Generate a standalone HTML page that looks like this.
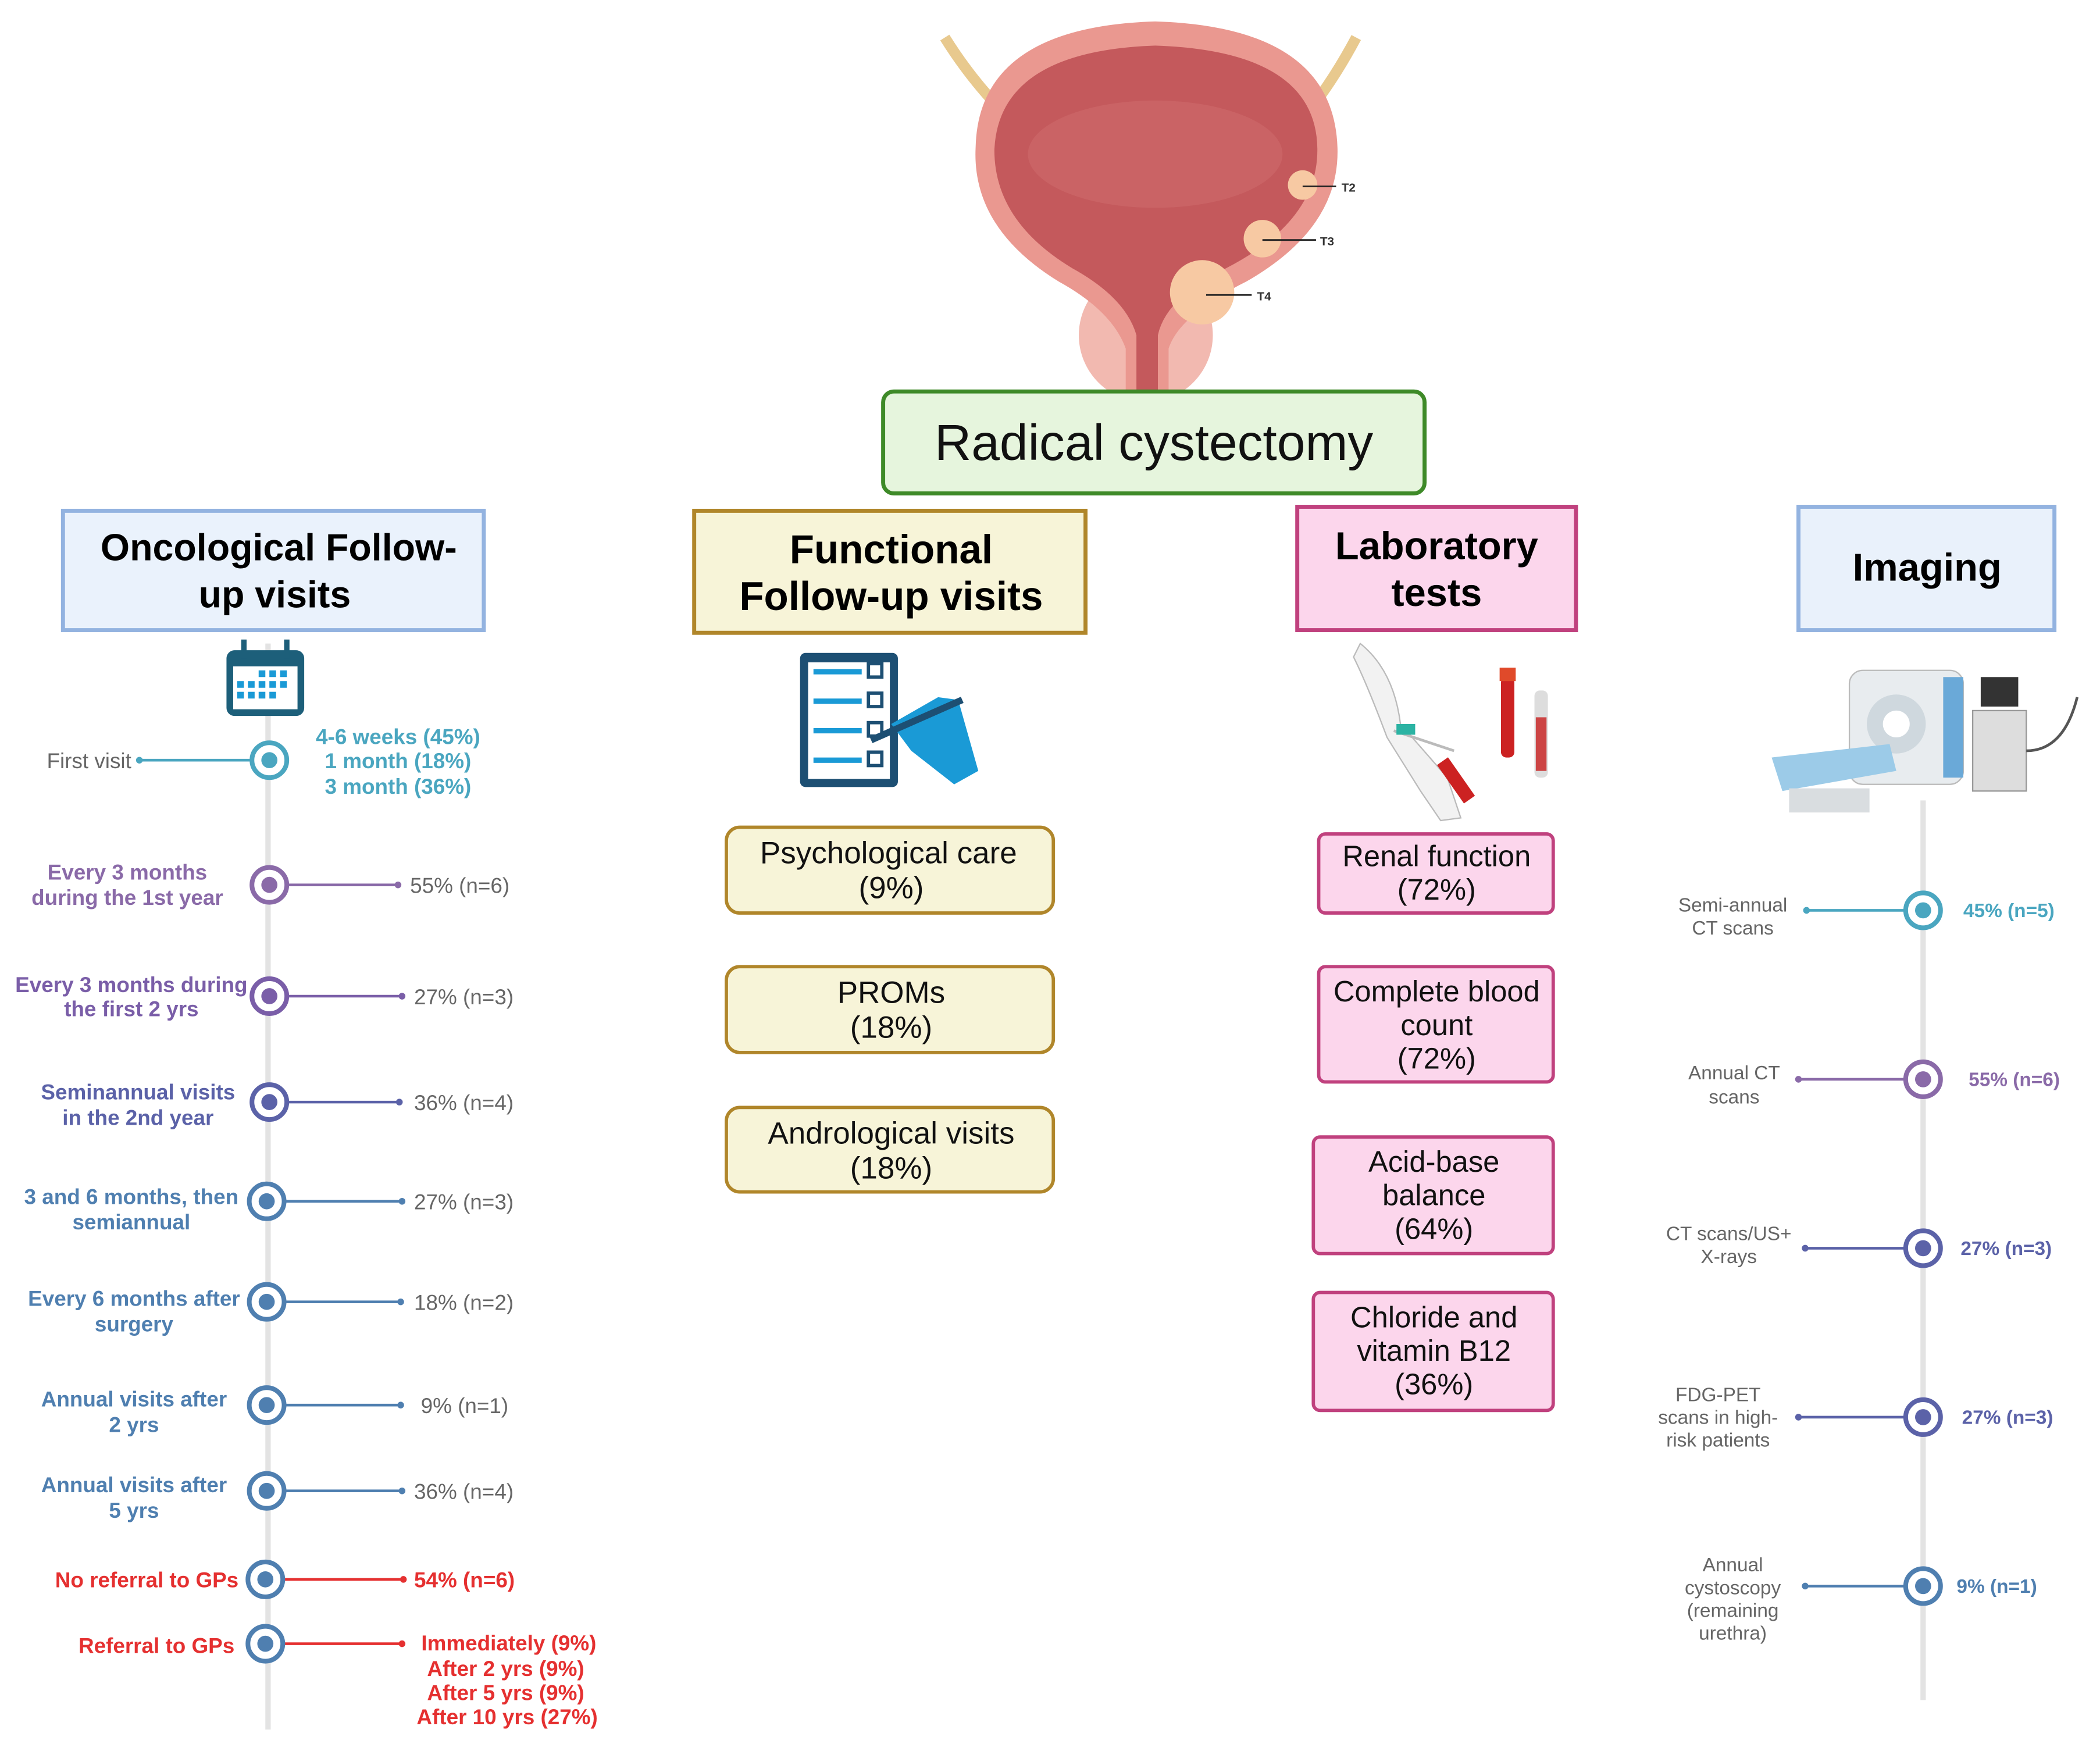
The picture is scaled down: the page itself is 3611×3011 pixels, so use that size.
<!DOCTYPE html>
<html><head><meta charset="utf-8"><style>
html,body{margin:0;padding:0;background:#fff}
svg{display:block}
text{font-family:"Liberation Sans",sans-serif}
</style></head><body>
<svg width="3611" height="3011" viewBox="0 0 1567 1306" preserveAspectRatio="none" xmlns="http://www.w3.org/2000/svg">
<rect width="1567" height="1306" fill="#fff"/>
<!-- bladder -->
<path d="M705 28 Q725 60 750 85" stroke="#e8c98e" stroke-width="8" fill="none"/>
<path d="M1012 28 Q995 60 975 85" stroke="#e8c98e" stroke-width="8" fill="none"/>
<ellipse cx="855" cy="250" rx="50" ry="50" fill="#f2b9b0"/>
<path d="M728 110 Q730 20 862 16 Q995 20 998 110 Q1000 170 930 210 Q880 235 872 260 L872 292 L840 292 L840 260 Q830 232 790 210 Q725 170 728 110Z" fill="#ea9890"/>
<path d="M742 112 Q745 38 862 34 Q983 38 983 112 Q983 165 915 200 Q870 222 864 250 L864 292 L848 292 L848 250 Q840 222 800 200 Q742 165 742 112Z" fill="#c4595c"/>
<ellipse cx="862" cy="115" rx="95" ry="40" fill="#cf6a6a" opacity="0.6"/>
<circle cx="972" cy="138" r="11" fill="#f7c9a3"/>
<circle cx="942" cy="178" r="14" fill="#f7c9a3"/>
<circle cx="897" cy="218" r="24" fill="#f7c9a3"/>
<g stroke="#222" stroke-width="1.2"><line x1="972" y1="139" x2="997" y2="139"/><line x1="942" y1="179" x2="982" y2="179"/><line x1="900" y1="220" x2="934" y2="220"/></g>
<g font-size="9" font-weight="bold" fill="#333"><text x="1001" y="143">T2</text><text x="985" y="183">T3</text><text x="938" y="224">T4</text></g>
<!-- main box -->
<rect x="659" y="292" width="404" height="76" rx="8" fill="#e6f5dd" stroke="#3e8a28" stroke-width="3"/>
<text x="861" y="343" font-size="38" text-anchor="middle" fill="#111">Radical cystectomy</text>
<!-- category boxes -->
<rect x="47" y="381" width="314" height="89" fill="#eaf2fc" stroke="#93b3e0" stroke-width="3"/>
<text x="208" y="418" font-size="28" font-weight="bold" text-anchor="middle">Oncological Follow-</text>
<text x="205" y="453" font-size="28" font-weight="bold" text-anchor="middle">up visits</text>
<rect x="518" y="381" width="292" height="91" fill="#f7f4d8" stroke="#b0862a" stroke-width="3"/>
<text x="665" y="420" font-size="30" font-weight="bold" text-anchor="middle">Functional</text>
<text x="665" y="455" font-size="30" font-weight="bold" text-anchor="middle">Follow-up visits</text>
<rect x="968" y="378" width="208" height="92" fill="#fcd6ec" stroke="#c0417e" stroke-width="3"/>
<text x="1072" y="417" font-size="29" font-weight="bold" text-anchor="middle">Laboratory</text>
<text x="1072" y="452" font-size="29" font-weight="bold" text-anchor="middle">tests</text>
<rect x="1342" y="378" width="191" height="92" fill="#e9f1fb" stroke="#93b3e0" stroke-width="3"/>
<text x="1438" y="433" font-size="29" font-weight="bold" text-anchor="middle">Imaging</text>
<!-- oncology timeline -->
<line x1="200" y1="480" x2="200" y2="1290" stroke="#e3e3e3" stroke-width="4"/>
<rect x="169" y="485" width="58" height="49" rx="6" fill="#1d5f7a"/>
<rect x="174" y="497" width="48" height="32" fill="#fff"/>
<rect x="180" y="477" width="4" height="14" fill="#1d5f7a"/><rect x="212" y="477" width="4" height="14" fill="#1d5f7a"/>
<g fill="#1a9ad6"><rect x="193" y="500" width="5" height="5"/><rect x="201" y="500" width="5" height="5"/><rect x="209" y="500" width="5" height="5"/>
<rect x="177" y="508" width="5" height="5"/><rect x="185" y="508" width="5" height="5"/><rect x="193" y="508" width="5" height="5"/><rect x="201" y="508" width="5" height="5"/><rect x="209" y="508" width="5" height="5"/>
<rect x="177" y="516" width="5" height="5"/><rect x="185" y="516" width="5" height="5"/><rect x="193" y="516" width="5" height="5"/><rect x="201" y="516" width="5" height="5"/></g>
<g font-size="16">
<line x1="104" y1="567" x2="188" y2="567" stroke="#4aa6c0" stroke-width="2"/><circle cx="104" cy="567" r="2.5" fill="#4aa6c0"/>
<circle cx="201" cy="567" r="13" fill="#fff" stroke="#4aa6c0" stroke-width="3.5"/><circle cx="201" cy="567" r="6" fill="#4aa6c0"/>
<text x="98" y="573" text-anchor="end" fill="#666">First visit</text>
<g fill="#4aa6c0" font-weight="bold" text-anchor="middle"><text x="297" y="555">4-6 weeks (45%)</text><text x="297" y="573">1 month (18%)</text><text x="297" y="592">3 month (36%)</text></g>
<g font-weight="bold" text-anchor="middle">
<text x="95" y="656" fill="#8a6aa8">Every 3 months</text><text x="95" y="675" fill="#8a6aa8">during the 1st year</text>
<text x="98" y="740" fill="#7a5ea8">Every 3 months during</text><text x="98" y="758" fill="#7a5ea8">the first 2 yrs</text>
<text x="103" y="820" fill="#5b62a8">Seminannual visits</text><text x="103" y="839" fill="#5b62a8">in the 2nd year</text>
<text x="98" y="898" fill="#4f7fb0">3 and 6 months, then</text><text x="98" y="917" fill="#4f7fb0">semiannual</text>
<text x="100" y="974" fill="#4f7fb0">Every 6 months after</text><text x="100" y="993" fill="#4f7fb0">surgery</text>
<text x="100" y="1049" fill="#4f7fb0">Annual visits after</text><text x="100" y="1068" fill="#4f7fb0">2 yrs</text>
<text x="100" y="1113" fill="#4f7fb0">Annual visits after</text><text x="100" y="1132" fill="#4f7fb0">5 yrs</text>
</g>
<text x="178" y="1184" text-anchor="end" font-weight="bold" fill="#e53030">No referral to GPs</text>
<text x="175" y="1233" text-anchor="end" font-weight="bold" fill="#e53030">Referral to GPs</text>
<g stroke-width="2">
<line x1="214" y1="660" x2="297" y2="660" stroke="#8a6aa8"/><line x1="214" y1="743" x2="300" y2="743" stroke="#7a5ea8"/>
<line x1="214" y1="822" x2="298" y2="822" stroke="#5b62a8"/><line x1="212" y1="896" x2="300" y2="896" stroke="#4f7fb0"/>
<line x1="212" y1="971" x2="299" y2="971" stroke="#4f7fb0"/><line x1="212" y1="1048" x2="299" y2="1048" stroke="#4f7fb0"/>
<line x1="212" y1="1112" x2="300" y2="1112" stroke="#4f7fb0"/><line x1="211" y1="1178" x2="301" y2="1178" stroke="#e53030"/>
<line x1="211" y1="1226" x2="300" y2="1226" stroke="#e53030"/>
</g>
<g>
<circle cx="297" cy="660" r="2.5" fill="#8a6aa8"/><circle cx="300" cy="743" r="2.5" fill="#7a5ea8"/><circle cx="298" cy="822" r="2.5" fill="#5b62a8"/>
<circle cx="300" cy="896" r="2.5" fill="#4f7fb0"/><circle cx="299" cy="971" r="2.5" fill="#4f7fb0"/><circle cx="299" cy="1048" r="2.5" fill="#4f7fb0"/>
<circle cx="300" cy="1112" r="2.5" fill="#4f7fb0"/><circle cx="301" cy="1178" r="2.5" fill="#e53030"/><circle cx="300" cy="1226" r="2.5" fill="#e53030"/>
</g>
<g fill="#fff" stroke-width="3.5">
<circle cx="201" cy="660" r="13" stroke="#8a6aa8"/><circle cx="201" cy="743" r="13" stroke="#7a5ea8"/><circle cx="201" cy="822" r="13" stroke="#5b62a8"/>
<circle cx="199" cy="896" r="13" stroke="#4f7fb0"/><circle cx="199" cy="971" r="13" stroke="#4f7fb0"/><circle cx="199" cy="1048" r="13" stroke="#4f7fb0"/>
<circle cx="199" cy="1112" r="13" stroke="#4f7fb0"/><circle cx="198" cy="1178" r="13" stroke="#4f7fb0"/><circle cx="198" cy="1226" r="13" stroke="#4f7fb0"/>
</g>
<g>
<circle cx="201" cy="660" r="6" fill="#8a6aa8"/><circle cx="201" cy="743" r="6" fill="#7a5ea8"/><circle cx="201" cy="822" r="6" fill="#5b62a8"/>
<circle cx="199" cy="896" r="6" fill="#4f7fb0"/><circle cx="199" cy="971" r="6" fill="#4f7fb0"/><circle cx="199" cy="1048" r="6" fill="#4f7fb0"/>
<circle cx="199" cy="1112" r="6" fill="#4f7fb0"/><circle cx="198" cy="1178" r="6" fill="#4f7fb0"/><circle cx="198" cy="1226" r="6" fill="#4f7fb0"/>
</g>
<g fill="#666">
<text x="306" y="666">55% (n=6)</text><text x="309" y="749">27% (n=3)</text><text x="309" y="828">36% (n=4)</text>
<text x="309" y="902">27% (n=3)</text><text x="309" y="977">18% (n=2)</text><text x="314" y="1054">9% (n=1)</text><text x="309" y="1118">36% (n=4)</text>
</g>
<text x="309" y="1184" font-weight="bold" fill="#e53030">54% (n=6)</text>
<g font-weight="bold" fill="#e53030" text-anchor="end"><text x="445" y="1231">Immediately  (9%)</text><text x="436" y="1250">After 2 yrs (9%)</text><text x="436" y="1268">After 5 yrs (9%)</text><text x="446" y="1286">After 10 yrs (27%)</text></g>
</g>
<!-- functional icon -->
<rect x="597" y="487" width="73" height="100" rx="4" fill="#1d4f73"/>
<rect x="603" y="494" width="61" height="87" fill="#fff"/>
<g fill="#1a9ad6"><rect x="607" y="499" width="36" height="4"/><rect x="607" y="521" width="36" height="4"/><rect x="607" y="543" width="36" height="4"/><rect x="607" y="565" width="36" height="4"/></g>
<g fill="none" stroke="#1d4f73" stroke-width="2.5"><rect x="648" y="495" width="10" height="10"/><rect x="648" y="517" width="10" height="10"/><rect x="648" y="539" width="10" height="10"/><rect x="648" y="561" width="10" height="10"/></g>
<path d="M665 540 L700 520 L715 522 L730 575 L712 585 L680 560 Z" fill="#1a9ad6"/>
<line x1="650" y1="552" x2="718" y2="522" stroke="#1d4f73" stroke-width="5"/>
<!-- functional boxes -->
<g fill="#f7f4d8" stroke="#b0862a" stroke-width="2.5">
<rect x="542" y="617" width="244" height="64" rx="10"/><rect x="542" y="721" width="244" height="64" rx="10"/><rect x="542" y="826" width="244" height="63" rx="10"/>
</g>
<g font-size="23" text-anchor="middle" fill="#111">
<text x="663" y="644">Psychological care</text><text x="665" y="670">(9%)</text>
<text x="665" y="748">PROMs</text><text x="665" y="774">(18%)</text>
<text x="665" y="853">Andrological visits</text><text x="665" y="879">(18%)</text>
</g>
<!-- lab icon -->
<path d="M1015 480 Q1040 500 1045 540 L1080 580 L1090 610 L1075 612 L1060 590 L1035 550 Q1020 510 1010 490Z" fill="#f2f2f2" stroke="#bbb"/>
<line x1="1040" y1="545" x2="1085" y2="560" stroke="#bbb" stroke-width="2"/>
<rect x="1042" y="540" width="14" height="8" fill="#2bb3a3"/>
<rect x="1080" y="565" width="10" height="35" transform="rotate(-35 1085 580)" fill="#c22"/>
<rect x="1120" y="505" width="10" height="60" rx="4" fill="#c22"/><rect x="1119" y="498" width="12" height="10" fill="#e04a2a"/>
<rect x="1145" y="515" width="10" height="65" rx="4" fill="#ddd"/><rect x="1146" y="535" width="8" height="40" fill="#c44"/>
<!-- lab boxes -->
<g fill="#fcd6ec" stroke="#c0417e" stroke-width="2.5">
<rect x="984" y="622" width="175" height="59" rx="5"/><rect x="984" y="721" width="175" height="86" rx="5"/>
<rect x="980" y="848" width="179" height="87" rx="5"/><rect x="980" y="964" width="179" height="88" rx="5"/>
</g>
<g font-size="22" text-anchor="middle" fill="#111">
<text x="1072" y="646">Renal function</text><text x="1072" y="671">(72%)</text>
<text x="1072" y="747">Complete blood</text><text x="1072" y="772">count</text><text x="1072" y="797">(72%)</text>
<text x="1070" y="874">Acid-base</text><text x="1070" y="899">balance</text><text x="1070" y="924">(64%)</text>
<text x="1070" y="990">Chloride and</text><text x="1070" y="1015">vitamin B12</text><text x="1070" y="1040">(36%)</text>
</g>
<!-- imaging icon -->
<rect x="1380" y="500" width="85" height="85" rx="10" fill="#e8ecef" stroke="#bbb"/>
<circle cx="1415" cy="540" r="22" fill="#cfd8de"/><circle cx="1415" cy="540" r="10" fill="#fff"/>
<rect x="1450" y="505" width="15" height="75" fill="#6aa9d8"/>
<path d="M1322 565 L1410 555 L1415 575 L1330 590Z" fill="#9ccbe8"/>
<rect x="1335" y="588" width="60" height="18" fill="#d9dde0"/>
<rect x="1478" y="505" width="28" height="22" fill="#333"/><rect x="1472" y="530" width="40" height="60" fill="#ddd" stroke="#999"/>
<path d="M1512 560 Q1540 560 1550 520" stroke="#555" stroke-width="2" fill="none"/>
<!-- imaging timeline -->
<line x1="1435" y1="597" x2="1435" y2="1268" stroke="#e3e3e3" stroke-width="4"/>
<g stroke-width="2">
<line x1="1348" y1="679" x2="1422" y2="679" stroke="#4aa6c0"/><line x1="1342" y1="805" x2="1422" y2="805" stroke="#8a6aa8"/>
<line x1="1347" y1="931" x2="1422" y2="931" stroke="#5b62a8"/><line x1="1342" y1="1057" x2="1422" y2="1057" stroke="#5b62a8"/>
<line x1="1347" y1="1183" x2="1422" y2="1183" stroke="#4f7fb0"/>
</g>
<circle cx="1348" cy="679" r="2.5" fill="#4aa6c0"/><circle cx="1342" cy="805" r="2.5" fill="#8a6aa8"/><circle cx="1347" cy="931" r="2.5" fill="#5b62a8"/><circle cx="1342" cy="1057" r="2.5" fill="#5b62a8"/><circle cx="1347" cy="1183" r="2.5" fill="#4f7fb0"/>
<g fill="#fff" stroke-width="3.5">
<circle cx="1435" cy="679" r="13" stroke="#4aa6c0"/><circle cx="1435" cy="805" r="13" stroke="#8a6aa8"/><circle cx="1435" cy="931" r="13" stroke="#5b62a8"/>
<circle cx="1435" cy="1057" r="13" stroke="#5b62a8"/><circle cx="1435" cy="1183" r="13" stroke="#4f7fb0"/>
</g>
<circle cx="1435" cy="679" r="6" fill="#4aa6c0"/><circle cx="1435" cy="805" r="6" fill="#8a6aa8"/><circle cx="1435" cy="931" r="6" fill="#5b62a8"/><circle cx="1435" cy="1057" r="6" fill="#5b62a8"/><circle cx="1435" cy="1183" r="6" fill="#4f7fb0"/>
<g font-size="14.5" fill="#666" text-anchor="middle">
<text x="1293" y="680">Semi-annual</text><text x="1293" y="697">CT scans</text>
<text x="1294" y="805">Annual CT</text><text x="1294" y="823">scans</text>
<text x="1290" y="925">CT scans/US+</text><text x="1290" y="942">X-rays</text>
<text x="1282" y="1045">FDG-PET</text><text x="1282" y="1062">scans in high-</text><text x="1282" y="1079">risk patients</text>
<text x="1293" y="1172">Annual</text><text x="1293" y="1189">cystoscopy</text><text x="1293" y="1206">(remaining</text><text x="1293" y="1223">urethra)</text>
</g>
<g font-size="14.5" font-weight="bold">
<text x="1465" y="684" fill="#4aa6c0">45% (n=5)</text><text x="1469" y="810" fill="#8a6aa8">55% (n=6)</text>
<text x="1463" y="936" fill="#5b62a8">27% (n=3)</text><text x="1464" y="1062" fill="#5b62a8">27% (n=3)</text><text x="1460" y="1188" fill="#4f7fb0">9% (n=1)</text>
</g>
</svg>
</body></html>
